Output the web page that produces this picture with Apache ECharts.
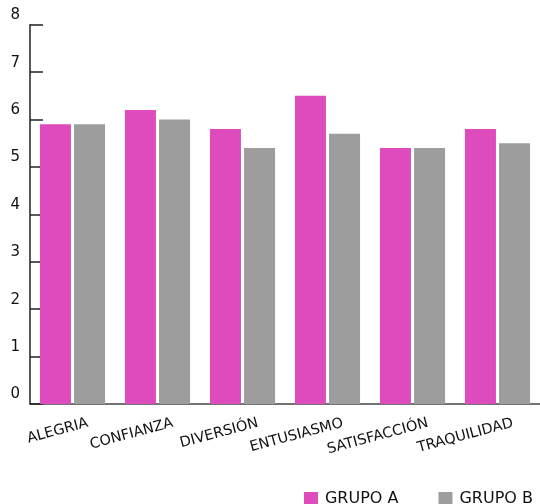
<!DOCTYPE html>
<html><head><meta charset="utf-8">
<script src="https://cdn.jsdelivr.net/npm/echarts@6/dist/echarts.min.js"></script>
<style>html,body{margin:0;padding:0;background:#fff}#c{width:540px;height:504px}</style>
</head><body><div id="c"></div>
<script>
const categories = ['ALEGRIA','CONFIANZA','DIVERSIÓN','ENTUSIASMO','SATISFACCIÓN','TRAQUILIDAD'];
const grupoA = [5.9, 6.2, 5.8, 6.5, 5.4, 5.8];
const grupoB = [5.9, 6.0, 5.4, 5.7, 5.4, 5.5];
const seriesNames = ['GRUPO A','GRUPO B'];
const yTicks = {min:0, max:8, interval:1};

const font = 'DejaVu Sans';
const chart = echarts.init(document.getElementById('c'));
chart.setOption({
  animation:false,
  grid:{left:30, right:0, top:24.7, bottom:100, containLabel:false},
  legend:{
    data:seriesNames, right:2, top:486, itemWidth:14, itemHeight:14, itemGap:40,
    icon:'rect',
    textStyle:{fontFamily:font, fontSize:16, color:'#111', padding:[0,0,0,2]}
  },
  xAxis:{
    type:'category', data:categories,
    axisLine:{lineStyle:{color:'#444', width:1.5}},
    axisTick:{inside:true, length:7, lineStyle:{color:'#333', width:1.5}},
    axisLabel:{rotate:15, margin:23, align:'right', padding:[0,-16,0,0], fontFamily:font, fontSize:14.5, color:'#111'}
  },
  yAxis:{
    type:'value', min:yTicks.min, max:yTicks.max, interval:yTicks.interval,
    axisLine:{show:true, lineStyle:{color:'#222', width:1.5}},
    axisTick:{show:true, inside:true, length:13, lineStyle:{color:'#222', width:1.5}},
    splitLine:{show:false},
    axisLabel:{margin:10, verticalAlign:'bottom', lineHeight:19, fontFamily:font, fontSize:15, color:'#111'}
  },
  series:[
    {name:seriesNames[0], type:'bar', data:grupoA, barWidth:31, barGap:'10%', itemStyle:{color:'#dd4bbd'}},
    {name:seriesNames[1], type:'bar', data:grupoB, barWidth:31, itemStyle:{color:'#9d9d9d'}}
  ]
});
</script></body></html>
